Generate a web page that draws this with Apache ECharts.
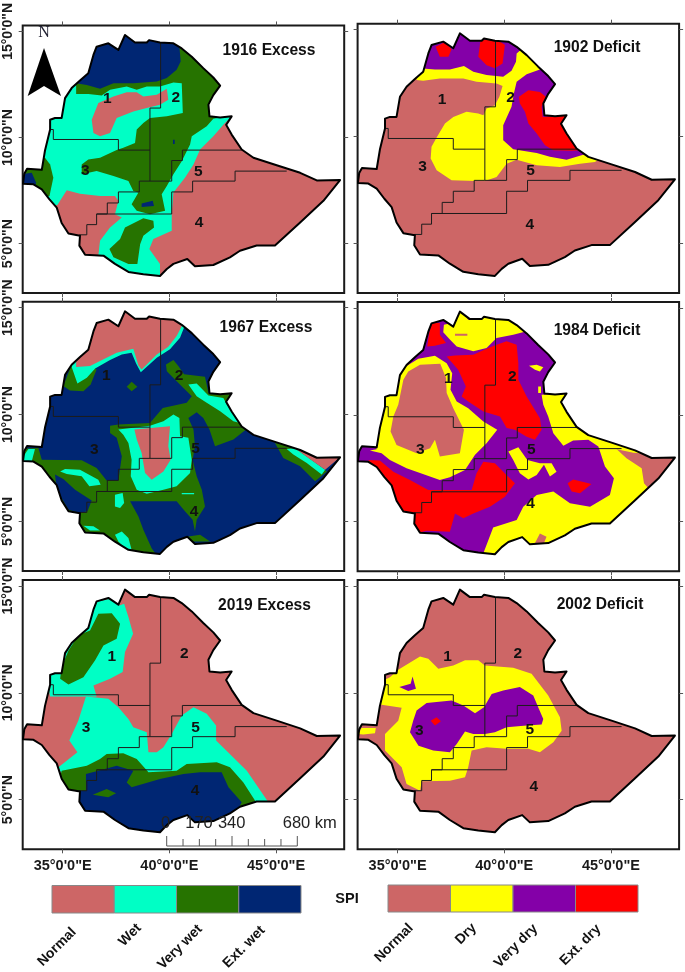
<!DOCTYPE html>
<html><head><meta charset="utf-8">
<style>html,body{margin:0;padding:0;background:#fff}#c{width:685px;height:972px}</style>
<script src="https://cdn.jsdelivr.net/npm/echarts@6/dist/echarts.min.js"></script>
</head><body><div id="c"></div>
<script>
// ---- tick labels and classes
const lonTicks=[35,40,45];
const latTicks=[5,10,15];
const lonTickLabels=['35°0\'0"E','40°0\'0"E','45°0\'0"E'];
const latTickLabels=['5°0\'0"N','10°0\'0"N','15°0\'0"N'];
const excessClasses=['Normal','Wet','Very wet','Ext. wet'];
const deficitClasses=['Normal','Dry','Very dry','Ext. dry'];
const excessColors=['#CD6666','#00FFC5','#267300','#002673'];
const deficitColors=['#CD6666','#FFFF00','#8400A8','#FF0000'];
const N='#CD6666',W='#00FFC5',V='#267300',X='#002673',Y='#FFFF00',P='#8400A8',R='#FF0000';

// ---- country outline and zone boundaries, flat lon,lat lists
const outline=[37.92,14.83,38.39,14.48,38.94,14.48,39.05,14.59,39.56,14.48,40.19,14.44,40.58,14.2,41.05,13.81,41.59,13.27,42.06,12.83,42.38,12.45,42.06,12.0,41.83,11.55,41.88,11.0,42.38,10.95,42.92,11.0,42.66,10.6,42.92,10.14,43.39,9.44,43.94,9.05,45.03,8.7,46.13,8.34,46.91,7.98,48.0,8.0,47.22,7.02,46.13,6.0,44.95,4.92,44.09,4.92,43.31,4.67,42.84,4.36,42.06,4.0,41.2,3.94,40.84,4.28,40.19,4.05,39.88,3.81,39.56,3.48,38.78,3.56,38.08,3.67,37.45,4.05,36.91,4.44,36.05,4.48,35.78,4.91,35.81,5.38,35.27,5.48,34.95,5.98,34.72,6.7,34.38,7.09,34.02,7.56,33.63,7.8,33.14,7.83,33.2,8.3,33.33,8.53,34.02,8.48,34.17,9.39,34.41,10.38,34.41,10.84,34.64,10.92,34.95,10.92,35.11,11.86,35.42,12.33,35.81,12.69,36.2,13.03,36.44,13.89,36.59,14.28,37.14,14.44,37.61,14.13];
const zone12=[39.59,14.48,39.59,11.39,39.09,11.39,39.09,7.95];
const zone13=[34.41,10.38,34.56,10.38,34.56,9.91,37.61,9.91,37.61,9.41,39.09,9.41];
const zone34=[39.09,7.95,38.59,7.95,38.59,7.44,37.61,7.44,37.61,6.92,37.09,6.92,37.09,6.4,36.59,6.4,36.59,5.9,36.13,5.9,36.13,5.42,35.78,5.42];
const zone45=[36.59,6.4,40.11,6.4,40.11,7.44,41.09,7.44,41.09,7.95,43.08,7.95,43.08,8.42,45.5,8.42];
const zone25=[39.09,7.95,40.11,7.95,40.11,8.92,40.61,8.92,40.61,9.41,43.39,9.41];
const zoneLines=[zone12,zone13,zone34,zone45,zone25];

// ---- SPI class areas per map, painted in order and clipped to the outline
const layers1916=[
[W,[43.0,11.08,42.56,10.64,42.06,10.06,41.44,9.44,41.13,8.73,40.73,8.11,40.19,7.41,40.11,6.39,40.11,5.61,39.25,5.22,39.06,4.75,39.56,4.05,39.56,3.27,38.08,3.27,37.22,4.05,36.67,4.44,36.75,5.14,37.22,5.77,37.77,6.23,37.45,6.39,37.61,7.02,37.45,7.25,36.75,7.25,35.81,7.36,35.19,7.52,34.75,6.83,33.94,6.7,32.84,7.64,32.84,11.7,35.19,15.45,43.31,15.45,43.31,11.7]],
[V,[35.63,12.05,36.2,12.05,36.83,11.98,37.22,12.25,38.0,12.41,38.47,12.25,38.94,12.41,39.56,12.41,40.19,12.59,40.58,12.56,40.63,11.16,39.88,11.0,39.09,10.92,38.78,10.69,38.47,10.38,38.39,9.75,37.84,9.52,37.53,9.41,36.75,9.05,36.2,8.97,35.89,8.73,35.89,8.27,36.59,8.42,37.38,8.19,38.08,7.95,38.31,7.48,38.55,7.41,38.23,6.86,38.47,6.55,39.09,6.39,39.8,6.55,39.64,7.33,39.88,7.72,40.19,8.27,40.58,8.89,40.97,9.67,41.05,10.06,41.75,10.53,42.06,10.89,42.92,11.05,43.47,11.23,43.47,15.6,35.63,15.6]],
[V,[34.17,9.05,34.41,8.73,34.56,8.11,34.38,7.25,34.09,7.17,33.0,7.64,33.0,8.89]],
[V,[37.92,5.77,38.78,6.2,39.25,6.08,39.28,5.77,38.78,5.38,38.63,4.98,38.5,4.05,38.08,4.05,37.38,4.36,37.19,4.75,37.69,5.22]],
[X,[33,8.27,33.55,8.34,33.75,7.88,33.7,7.64,33,7.72]],
[X,[35.63,12.56,36.13,12.48,36.75,12.3,37.38,12.56,38.31,12.56,39.41,12.64,39.88,12.8,40.34,13.19,40.53,13.58,40.47,14.28,40.5,14.98,40.5,15.45,35.63,15.45]],
[X,[38.7,6.89,39.22,7.02,39.28,6.78,38.7,6.73]],
[X,[40.17,9.9,40.25,9.9,40.25,9.7,40.17,9.7]],
[N,[36.44,10.22,36.36,10.84,36.67,11.63,37.38,11.94,38.0,12.14,38.47,12.14,38.78,11.94,39.41,12.02,39.88,12.3,39.95,11.78,39.56,11.55,38.94,11.39,38.31,11.23,37.53,10.92,37.22,10.22,36.75,10.06]]
];
const layers1902=[
[Y,[35.89,12.64,36.2,12.61,36.98,12.72,38.08,12.72,38.7,12.56,39.64,12.48,39.92,12.36,39.77,11.86,39.56,11.47,39.17,11.31,39.02,11.0,38.78,11.08,38.23,11.16,37.61,10.92,37.22,10.61,36.83,9.95,36.59,9.52,36.55,8.97,36.83,8.42,37.53,7.95,38.7,7.92,39.09,7.92,39.64,8.11,40.11,8.73,40.58,8.92,41.52,8.66,42.61,8.58,43.55,8.73,44.25,8.81,44.64,9.05,43.55,11.7,43.23,15.45,35.89,15.45]],
[P,[36.05,13.19,36.75,13.14,37.45,13.14,38.11,13.3,38.55,13.03,39.17,12.88,39.95,12.8,40.34,13.08,40.55,13.5,40.58,13.89,40.86,14.13,41.05,15.45,36.05,15.45]],
[P,[41.67,13.14,41.05,12.92,40.58,12.56,40.45,12.02,40.34,11.39,39.95,10.53,39.95,9.83,40.42,9.41,41.52,9.23,42.14,9.05,42.92,8.92,43.78,9.17,44.64,9.52,44.64,13.27,42.61,13.27]],
[R,[40.69,11.86,41.13,12.17,41.67,12.09,41.95,11.86,41.75,11.39,41.8,10.92,42.3,10.95,43.08,11.05,42.67,10.61,43.08,10.14,43.55,9.36,43.16,9.33,42.3,9.36,41.91,9.59,41.52,10.14,41.13,10.61,40.97,11.16,40.73,11.55]],
[R,[36.78,14.2,37.22,14.41,37.53,14.08,37.38,13.73,36.98,13.73]],
[R,[38.89,14.52,39.64,14.55,40.03,14.28,39.92,13.42,39.56,13.19,39.17,13.34,38.78,13.73]]
];
const layers1967=[
[V,[39.84,12.34,40.19,12.55,40.42,12.27,40.69,11.88,41.67,11.77,41.83,11.02,42.92,10.94,43.0,10.23,43.7,9.38,43.0,8.83,42.14,8.52,41.88,9.3,41.59,9.84,41.28,10.11,40.89,9.84,41.13,9.3,41.2,8.52,41.09,7.89,41.28,7.11,41.52,6.48,41.67,5.7,41.28,5.08,41.2,4.53,41.09,5.08,40.73,5.47,40.34,5.94,39.09,5.94,38.16,5.94,38.55,5.23,38.78,4.61,39.17,3.75,39.56,3.2,35.66,3.98,34.09,6.48,33.0,7.73,33.0,8.39,33.86,8.44,34.02,7.89,35.89,7.86,36.59,7.5,37.06,6.92,37.61,6.92,37.77,8.05,37.53,8.91,37.22,9.14,37.22,9.48,37.61,9.53,39.09,9.61,39.69,10.31,40.81,10.55,41.05,10.86,40.34,11.56,39.88,12.03]],
[V,[35.03,11.33,35.34,11.13,35.97,11.09,36.31,11.41,36.59,12.11,36.13,12.27,35.42,12.34]],
[V,[38.0,11.3,38.23,11.53,38.5,11.3,38.23,11.09]],
[V,[44.95,8.67,45.81,8.52,47.38,7.34,46.83,6.88,46.13,7.58,45.34,7.97]],
[V,[40.89,4.3,41.44,4.38,41.91,4.06,41.05,4.06]],
[X,[34.64,7.19,35.03,6.98,35.58,6.48,36.36,5.98,36.16,5.47,35.81,5.39,35.27,5.55,34.72,6.48]],
[W,[35.42,12.23,35.69,11.45,36.13,11.72,36.52,12.16,37.22,12.55,37.77,12.81,38.23,12.89,38.44,12.39,38.66,11.98,39.41,12.66,40.03,13.05,40.5,13.59,40.75,14.22,40.81,15.23,35.42,15.23]],
[W,[45.5,8.39,45.89,8.42,47.3,7.42,47.14,7.19,46.44,7.73,45.81,8.13]],
[W,[33.0,7.81,33.39,8.39,33.7,8.39,33.55,7.81]],
[W,[34.88,7.34,35.11,7.45,35.81,7.42,36.67,6.95,36.78,6.72,36.25,6.64,35.89,7.11,35.19,7.22]],
[W,[37.45,6.25,37.81,6.33,37.88,5.86,37.69,5.63,37.45,5.7]],
[W,[37.45,4.38,37.77,4.53,38.08,4.22,38.23,3.67,37.92,3.75,37.61,4.06]],
[W,[35.97,4.8,36.44,4.77,36.75,4.58,36.28,4.58]],
[W,[40.58,6.33,41.16,6.33,41.16,6.27,40.58,6.27]],
[W,[40.89,11.41,41.28,11.45,41.83,10.89,42.53,10.78,42.69,10.47,43.31,9.61,43.0,9.69,42.38,10.16,41.75,10.55,41.28,10.86]],
[W,[37.61,9.3,38.31,9.38,39.09,9.48,39.72,9.69,40.19,10.0,40.47,9.84,40.5,8.98,40.89,8.91,41.05,7.89,40.97,7.27,40.34,6.64,39.72,6.48,38.94,6.3,38.47,6.48,38.19,7.11,38.23,7.89,38.08,8.67,37.84,9.06]],
[N,[35.63,12.22,36.28,12.27,36.75,12.5,37.53,12.89,38.31,13.08,38.55,12.3,38.7,12.11,39.41,12.81,39.95,13.17,40.34,13.67,40.63,14.22,40.63,15.23,35.63,15.23]],
[N,[45.81,8.48,48.16,8.13,47.3,7.42,46.52,7.97]],
[N,[38.36,9.3,40.03,9.45,39.95,8.52,40.06,7.89,39.72,7.34,39.17,6.95,38.86,7.27,38.7,8.2,38.47,8.83]]
];
const layers1984=[
[Y,[33.7,8.33,34.02,8.39,33.86,8.98,33.86,10.47,34.64,10.94,35.27,12.19,35.97,12.63,36.75,12.77,37.3,12.42,37.56,11.95,37.48,11.17,37.77,10.63,38.31,10.31,39.02,9.69,39.67,9.3,39.17,8.67,38.63,8.13,38.16,7.42,37.45,7.08,36.98,6.95,35.42,7.5,34.64,7.89,34.25,8.2]],
[N,[35.5,12.03,36.05,12.34,37.0,12.39,37.27,11.72,37.3,11.02,37.61,10.31,38.11,9.3,37.92,8.2,36.98,8.05,36.75,8.83,36.52,8.44,35.89,8.2,34.95,8.59,34.67,9.22,34.8,9.92,35.03,10.47,35.27,11.64]],
[Y,[37.17,14.22,37.53,14.3,38.0,14.92,38.31,14.45,39.02,14.69,39.64,14.69,40.42,14.53,41.05,13.91,40.42,13.75,39.64,13.59,39.17,13.13,38.55,12.97,37.77,13.2,37.45,13.52,37.14,13.86]],
[N,[37.69,13.8,38.27,13.8,38.27,13.7,37.69,13.7]],
[R,[36.59,14.3,36.98,14.3,36.98,13.75,37.27,13.36,36.75,13.23,36.39,13.2,36.48,13.83]],
[R,[37.3,12.73,37.69,12.78,38.55,12.81,39.25,13.13,39.64,13.28,40.11,13.44,40.58,13.28,40.66,12.42,40.66,11.64,41.05,10.86,41.67,9.84,41.75,9.3,41.44,8.83,41.05,8.98,40.5,9.3,40.11,9.38,39.8,9.92,39.02,10.16,38.31,10.63,38.0,10.86,38.2,11.33,37.84,12.11]],
[R,[33.63,7.89,34.17,7.86,34.8,7.34,35.58,6.95,36.44,6.48,36.98,6.48,38.47,6.48,38.7,7.27,39.02,7.81,39.56,7.73,39.95,7.34,40.5,6.8,40.03,6.17,39.33,5.7,38.55,5.39,38.08,5.16,37.69,5.39,37.45,4.53,36.36,4.58,35.81,4.45,35.66,5.39,35.11,5.55,34.64,6.33,34.02,7.11]],
[Y,[41.75,10.94,42.3,10.98,43.23,11.17,43.55,9.61,44.48,8.98,45.58,8.52,48.39,8.05,47.14,5.86,45.11,4.3,43.23,3.52,39.64,2.89,39.02,3.52,39.48,4.73,40.58,5.08,40.89,5.7,41.52,6.25,42.3,6.41,43.08,5.86,44.02,5.7,44.95,6.25,45.14,7.03,44.72,7.58,44.41,8.52,43.94,8.83,43.23,8.8,42.77,8.55,42.3,9.14,42.06,9.92,41.83,10.47]],
[N,[45.27,8.39,46.05,8.23,48.39,8.05,46.83,6.48,46.55,6.8,46.44,7.5,45.73,7.97]],
[N,[41.67,4.45,41.98,4.3,41.83,3.92,41.44,4.0]],
[Y,[40.19,8.28,40.66,8.48,41.08,7.89,41.67,7.73,42.22,7.73,42.45,7.34,42.14,7.11,41.86,7.66,41.52,7.19,41.13,6.98,40.73,7.27,40.42,7.89]],
[Y,[41.16,12.3,41.52,12.34,41.83,12.23,41.67,12.03,41.44,12.11]],
[Y,[41.59,11.33,41.72,11.33,41.72,11.02,41.59,11.02]],
[R,[42.97,6.8,43.23,6.98,44.09,6.77,43.55,6.33,43.16,6.41]]
];
const layers2019=[
[W,[36.52,14.25,37.3,14.41,37.66,14.09,37.88,14.17,38.08,13.55,38.3,12.77,37.92,11.91,37.81,10.97,37.22,10.66,36.44,10.34,36.59,9.83,34.41,9.83,34.25,10.73,34.88,11.05,35.58,13.08]],
[V,[36.67,13.7,37.3,13.73,37.69,13.23,37.53,12.53,36.91,12.22,36.52,11.52,35.97,10.73,35.27,10.39,34.88,10.66,34.95,11.2,35.27,11.98,35.73,12.69,36.28,12.92]],
[W,[36.09,9.83,37.14,9.72,37.61,9.33,38.08,8.78,38.31,8.39,38.94,8.16,39.02,7.22,39.41,7.22,39.72,7.45,40.11,8.08,40.58,8.94,41.13,9.33,41.75,9.02,42.19,8.47,42.19,7.77,43.0,6.98,43.63,6.36,44.64,4.88,43.31,4.48,38.31,5.42,35.03,6.05,34.8,6.52,35.69,7.22,35.31,7.77,35.73,8.7]],
[V,[34.95,6.36,36.13,6.59,36.75,6.91,37.06,7.14,37.84,7.17,38.47,6.91,39.02,6.28,40.34,6.36,40.81,6.67,42.22,6.75,42.84,6.52,43.47,5.81,44.02,4.95,43.31,4.48,35.97,4.8,35.42,5.11,34.88,6.05]],
[X,[36.09,6.2,36.67,6.36,37.53,6.59,38.31,6.36,38.0,5.81,38.23,5.58,39.56,5.97,40.66,6.2,41.44,6.28,42.45,6.28,42.77,5.58,43.39,4.88,43.0,4.17,42,3,39,2.9,35.5,4.3,35.5,5.42,36.09,5.42]],
[V,[36.41,5.23,37.06,5.5,37.5,5.3,37.14,5.11]]
];
const layers2002=[
[Y,[35.03,11.08,36.05,11.7,36.44,11.59,36.91,11.13,37.61,11.28,38.16,11.52,38.78,11.52,39.09,11.28,40.42,11.17,41.28,10.89,42.06,9.88,42.61,8.86,42.69,8.23,42.3,7.69,41.67,7.22,41.13,7.38,40.11,7.38,39.17,7.45,38.47,7.3,38.31,6.52,38.16,6.05,37.45,5.89,36.13,5.86,36.05,5.42,35.42,5.73,35.19,6.52,34.41,7.3,34.41,8.08,35.03,8.7,35.19,9.3,34.17,9.45,33.86,9.48,34.02,10.42,34.64,10.73]],
[Y,[33.16,8.08,33.31,8.36,33.98,8.36,33.94,8.11,33.39,8.05]],
[P,[35.89,9.17,36.36,9.52,37.53,9.64,38.08,9.41,38.63,9.05,39.05,9.33,39.41,9.95,39.95,10.11,40.73,10.27,41.36,9.88,41.59,9.33,41.83,8.78,41.75,8.52,41.05,8.47,40.11,8.39,39.56,8.16,39.09,8.08,38.55,8.08,38.16,8.19,37.77,7.61,37.45,7.22,36.67,7.3,35.98,7.53,35.58,8.16,35.73,8.7]],
[P,[35.08,10.27,35.61,10.42,35.7,10.77,35.86,10.19,35.5,10.09]],
[R,[36.55,8.7,36.83,8.86,37.03,8.67,36.75,8.47]]
];

// ---- zone number anchors (zone, lon, lat)
const zones1916=[[1,37.09,11.83],[2,40.3,11.9],[3,36.06,8.45],[5,41.36,8.38],[4,41.39,6.0]];
const zones1902=[[1,37.08,11.73],[2,40.3,11.81],[3,36.17,8.58],[5,41.23,8.38],[4,41.2,5.89]];
const zones1967=[[1,37.05,11.8],[2,40.45,11.84],[3,36.48,8.34],[5,41.23,8.38],[4,41.16,5.47]];
const zones1984=[[1,37.38,11.7],[2,40.38,11.8],[3,36.06,8.36],[5,41.27,8.36],[4,41.23,5.83]];
const zones2019=[[1,37.3,11.67],[2,40.7,11.81],[3,36.09,8.36],[5,41.23,8.36],[4,41.2,5.42]];
const zones2002=[[1,37.34,11.67],[2,40.64,11.84],[3,36.02,8.23],[5,41.2,8.27],[4,41.39,5.61]];

const scaleBarLabels=['0','170','340','680 km'];

// ---- page layout
const FONT='"Liberation Sans", Arial, sans-serif';
const panels=[
 {title:'1916 Excess',base:N,layers:layers1916,zones:zones1916,left:22.7,top:23.7,tx:269,ty:51},
 {title:'1902 Deficit',base:N,layers:layers1902,zones:zones1902,left:357.6,top:23.7,tx:597,ty:48},
 {title:'1967 Excess',base:X,layers:layers1967,zones:zones1967,left:22.7,top:301.7,tx:266,ty:327.5},
 {title:'1984 Deficit',base:P,layers:layers1984,zones:zones1984,left:357.6,top:302,tx:597,ty:331},
 {title:'2019 Excess',base:N,layers:layers2019,zones:zones2019,left:22.7,top:580,tx:264.5,ty:606},
 {title:'2002 Deficit',base:N,layers:layers2002,zones:zones2002,left:357.6,top:580,tx:600,ty:605}
];
const W_=321.5,H_=269.3;
const pairs=f=>{const o=[];for(let i=0;i<f.length;i+=2)o.push([f[i],f[i+1]]);return o;};
const lab=(arr,lbl)=>v=>{const i=arr.indexOf(v);return i<0?'':lbl[i];};

const grid=[],xAxis=[],yAxis=[],series=[],title=[];
panels.forEach((p,i)=>{
 grid.push({left:p.left,top:p.top,width:W_,height:H_,show:true,borderColor:'#1a1a1a',borderWidth:2,backgroundColor:'#fff',containLabel:false});
 const tick={show:true,length:4,lineStyle:{color:'#555',width:1},customValues:lonTicks};
 const base={type:'value',min:33.125,max:48.195,gridIndex:i,splitLine:{show:false},axisLine:{show:false},z:1};
 xAxis.push({...base,position:'bottom',axisTick:tick,axisLabel:{show:i>=4,customValues:lonTicks,formatter:lab(lonTicks,lonTickLabels),margin:9,color:'#1a1a1a',fontFamily:FONT,fontWeight:'bold',fontSize:14.5}});
 xAxis.push({...base,position:'top',axisTick:tick,axisLabel:{show:false}});
 const ybase={type:'value',min:2.68,max:15.28,gridIndex:i,splitLine:{show:false},axisLine:{show:false},z:1};
 const ytick={show:true,length:4,lineStyle:{color:'#555',width:1},customValues:latTicks};
 yAxis.push({...ybase,position:'left',axisTick:ytick,axisLabel:{show:i%2===0,customValues:latTicks,rotate:90,formatter:lab(latTicks,latTickLabels),margin:8,color:'#1a1a1a',fontFamily:FONT,fontWeight:'bold',fontSize:14}});
 yAxis.push({...ybase,position:'right',axisTick:ytick,axisLabel:{show:false}});
 title.push({text:p.title,left:p.tx,top:p.ty-8,textAlign:'center',textStyle:{fontFamily:FONT,fontWeight:'bold',fontSize:15.6,color:'#111',lineHeight:16},padding:0});

 const items=[{k:'fill',c:p.base,pts:outline}];
 p.layers.forEach(l=>items.push({k:'fill',c:l[0],pts:l[1]}));
 zoneLines.forEach(z=>items.push({k:'line',pts:z}));
 items.push({k:'outline',pts:outline});
 p.zones.forEach(z=>items.push({k:'text',t:String(z[0]),pts:[z[1],z[2]]}));
 series.push({
  type:'custom',coordinateSystem:'cartesian2d',xAxisIndex:i*2,yAxisIndex:i*2,silent:true,clip:false,animation:false,z:3,
  data:items.map((it,n)=>[it.pts[0],it.pts[1],n]),
  renderItem:(params,api)=>{
   const it=items[api.value(2)];
   const co=a=>pairs(a).map(q=>api.coord(q));
   if(it.k==='fill')return{type:'polygon',shape:{points:co(it.pts)},style:{fill:it.c,stroke:null},
     clipPath:{type:'polygon',shape:{points:co(outline)}}};
   if(it.k==='line')return{type:'polyline',shape:{points:co(it.pts)},style:{fill:null,stroke:'#1c1c1c',lineWidth:1}};
   if(it.k==='outline')return{type:'polygon',shape:{points:co(it.pts)},style:{fill:null,stroke:'#000',lineWidth:2,lineJoin:'round'}};
   const c=api.coord(it.pts);
   return{type:'text',style:{text:it.t,x:c[0],y:c[1],font:'bold 15.5px '+FONT,fill:'#111',textAlign:'center',textVerticalAlign:'middle',verticalAlign:'middle'}};
  }
 });
});

// ---- north arrow, scale bar, colour keys
const graphic=[];
graphic.push({type:'polygon',z:20,shape:{points:[[44,48],[27.7,96],[44,86]]},style:{fill:'#000'}});
graphic.push({type:'polygon',z:20,shape:{points:[[44,48],[61,96],[44,86]]},style:{fill:'#000'}});
graphic.push({type:'text',z:20,style:{text:'N',x:44,y:33,font:'16px "Liberation Serif", serif',fill:'#223',textAlign:'center',textVerticalAlign:'middle',verticalAlign:'middle'}});
const sb0=166.7,sb1=297.3,sbY=846;
graphic.push({type:'line',z:20,shape:{x1:sb0,y1:sbY,x2:sb1,y2:sbY},style:{stroke:'#555',lineWidth:1}});
for(let i=0;i<=8;i++){const x=sb0+(sb1-sb0)*i/8;const tall=i===0||i===8||i===4;
 graphic.push({type:'line',z:20,shape:{x1:x,y1:sbY,x2:x,y2:sbY-(tall?10:7)},style:{stroke:'#555',lineWidth:1}});}
[[165.7,'center'],[199,'center'],[231.7,'center'],[282.7,'left']].forEach((q,i)=>graphic.push({type:'text',z:20,style:{text:scaleBarLabels[i],x:q[0],y:823,font:'16.5px '+FONT,fill:'#222',textAlign:q[1],textVerticalAlign:'middle',verticalAlign:'middle'}}));
function key(x0,x1,y0,y1,colors,names,centers){
 const w=(x1-x0)/colors.length;
 colors.forEach((c,i)=>graphic.push({type:'rect',z:20,shape:{x:x0+i*w,y:y0,width:w,height:y1-y0},style:{fill:c,stroke:'#888',lineWidth:1}}));
 names.forEach((n,i)=>graphic.push({type:'text',z:20,rotation:Math.PI/4,x:centers[i][0],y:centers[i][1],style:{text:n,x:0,y:0,font:'bold 14px '+FONT,fill:'#111',textAlign:'center',textVerticalAlign:'middle',verticalAlign:'middle'}}));
}
key(52,301,885.5,913,excessColors,excessClasses,[[57,947],[130,935],[180,947],[244,947]]);
key(388,638,885,912,deficitColors,deficitClasses,[[394,943],[466,934],[516,946],[580.5,945]]);
graphic.push({type:'text',z:20,style:{text:'SPI',x:347,y:899,font:'bold 14.5px '+FONT,fill:'#111',textAlign:'center',textVerticalAlign:'middle',verticalAlign:'middle'}});

const chart=echarts.init(document.getElementById('c'),null,{renderer:'canvas'});
chart.setOption({animation:false,backgroundColor:'#fff',title,grid,xAxis,yAxis,series,graphic});
</script></body></html>
